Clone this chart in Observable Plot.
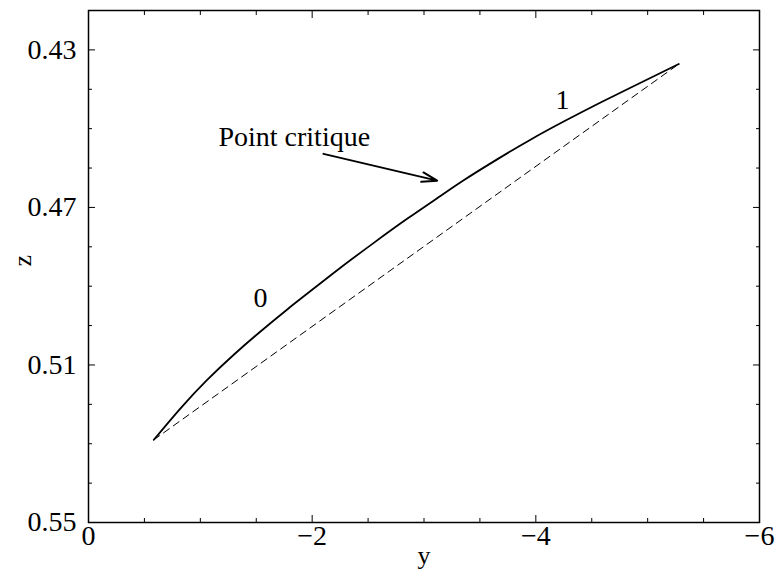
<!DOCTYPE html>
<html><head><meta charset="utf-8">
<script src="https://cdn.jsdelivr.net/npm/d3@7"></script>
<script src="https://cdn.jsdelivr.net/npm/@observablehq/plot@0.6"></script>
<style>
body{margin:0;background:#fff}
svg, svg text {font-family: "Liberation Serif", "Times New Roman", serif !important;}
</style>
</head><body><div id="chart"></div>
<script>
// Solid curve (y, z)
const curveY = [-0.584, -0.823, -1.061, -1.299, -1.538, -1.777, -2.014, -2.253, -2.551, -2.849, -3.147, -3.355, -3.654, -3.952, -4.249, -4.548, -4.846, -5.278];
const curveZ = [0.5290, 0.5210, 0.5138, 0.5074, 0.5015, 0.4959, 0.4906, 0.4853, 0.4790, 0.4729, 0.4671, 0.4631, 0.4578, 0.4528, 0.4482, 0.4438, 0.4396, 0.4336];

// Axis ticks
const xMajorTicks = [0, -2, -4, -6];
const xMinorTicks = [-0.5, -1, -1.5, -2.5, -3, -3.5, -4.5, -5, -5.5];
const yMajorTicks = [0.43, 0.47, 0.51, 0.55];
const yMinorTicks = [0.44, 0.45, 0.46, 0.48, 0.49, 0.50, 0.52, 0.53, 0.54];

// Annotations
const critLabel = {t: "Point critique", y: -1.162, z: 0.4521};
const numLabels = ["0", "1"];
const numY = [-1.538, -4.238];
const numZ = [0.4930, 0.4428];
const arrowFrom = [-2.101, 0.4564];
const arrowTo = [-3.118, 0.4632];

const curve = curveY.map((y, i) => ({y, z: curveZ[i]}));
const chord = [curve[0], curve[curve.length - 1]];
const nums = numLabels.map((t, i) => ({t, y: numY[i], z: numZ[i]}));

const font = "Liberation Serif, Times New Roman, serif";
const fs = 28;

const chart = Plot.plot({
  width: 778,
  height: 571,
  marginLeft: 88,
  marginRight: 19,
  marginTop: 10,
  marginBottom: 49,
  style: {fontFamily: font, fontSize: fs + "px", color: "black", background: "white", overflow: "visible"},
  x: {domain: [0, -6]},
  y: {domain: [0.55, 0.42]},
  marks: [
    Plot.frame({stroke: "black", strokeWidth: 1.5}),
    // inward ticks on all four sides
    Plot.axisX({anchor: "bottom", ticks: xMajorTicks, tickSize: -7, text: null, label: null}),
    Plot.axisX({anchor: "bottom", ticks: xMinorTicks, tickSize: -4, text: null, label: null}),
    Plot.axisX({anchor: "top", ticks: xMajorTicks, tickSize: -7, text: null, label: null}),
    Plot.axisX({anchor: "top", ticks: xMinorTicks, tickSize: -4, text: null, label: null}),
    Plot.axisY({anchor: "left", ticks: yMajorTicks, tickSize: -7, text: null, label: null}),
    Plot.axisY({anchor: "left", ticks: yMinorTicks, tickSize: -4, text: null, label: null}),
    Plot.axisY({anchor: "right", ticks: yMajorTicks, tickSize: -7, text: null, label: null}),
    Plot.axisY({anchor: "right", ticks: yMinorTicks, tickSize: -4, text: null, label: null}),
    // tick labels
    Plot.axisX({anchor: "bottom", ticks: xMajorTicks, tickSize: 0, tickPadding: 3, fontSize: fs, fontFamily: font, tickFormat: d3.format("~g"), label: null}),
    Plot.axisY({anchor: "left", ticks: yMajorTicks, tickSize: 0, tickPadding: 12, fontSize: fs, fontFamily: font, tickFormat: d3.format(".2f"), label: null}),
    // axis titles
    Plot.text(["y"], {frameAnchor: "bottom", dy: 41, lineAnchor: "bottom", fontSize: 26, fontFamily: font, text: d => d}),
    Plot.text(["z"], {frameAnchor: "left", dx: -66, rotate: -90, fontSize: 26, fontFamily: font, text: d => d}),
    // data
    Plot.line(chord, {x: "y", y: "z", stroke: "black", strokeWidth: 1, strokeDasharray: "7,5"}),
    Plot.line(curve, {x: "y", y: "z", stroke: "black", strokeWidth: 1.8, curve: "natural"}),
    Plot.arrow([0], {x1: () => arrowFrom[0], y1: () => arrowFrom[1], x2: () => arrowTo[0], y2: () => arrowTo[1], stroke: "black", strokeWidth: 2, headLength: 12, headAngle: 35}),
    Plot.text([critLabel], {x: "y", y: "z", text: "t", textAnchor: "start", fontSize: fs, fontFamily: font}),
    Plot.text(nums, {x: "y", y: "z", text: "t", textAnchor: "middle", fontSize: fs, fontFamily: font})
  ]
});
document.getElementById("chart").appendChild(chart);
</script>
</body></html>
